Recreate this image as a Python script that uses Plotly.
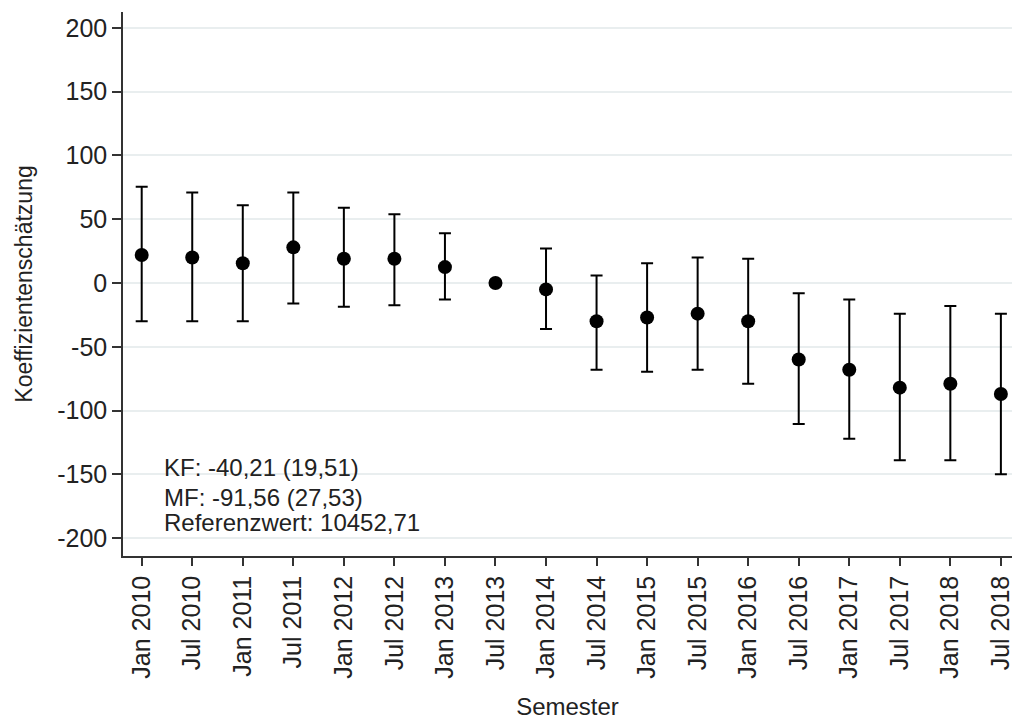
import plotly.graph_objects as go

labels = ["Jan 2010", "Jul 2010", "Jan 2011", "Jul 2011", "Jan 2012", "Jul 2012",
          "Jan 2013", "Jul 2013", "Jan 2014", "Jul 2014", "Jan 2015", "Jul 2015",
          "Jan 2016", "Jul 2016", "Jan 2017", "Jul 2017", "Jan 2018", "Jul 2018"]
coef = [22, 20, 15.5, 28, 19, 19, 12.5, 0, -5, -30, -27, -24, -30, -60, -68, -82, -79, -87]
upper = [75.5, 71, 61, 71, 59, 54, 39, 0, 27, 6, 15.5, 20, 19, -8, -13, -24, -18, -24]
lower = [-30, -30, -30, -16, -18.5, -17.5, -13, 0, -36, -68, -69.5, -68, -79, -110.5, -122, -139, -139, -150]

y_ticks = [-200, -150, -100, -50, 0, 50, 100, 150, 200]
note_lines = ["KF: -40,21 (19,51)", "MF: -91,56 (27,53)", "Referenzwert: 10452,71"]
note_y = [-145, -168, -188]

x = list(range(len(labels)))
err_plus = [u - c for u, c in zip(upper, coef)]
err_minus = [c - l for c, l in zip(coef, lower)]

FONT = "Liberation Sans, Arial, Helvetica, sans-serif"
TXT = "#222222"

fig = go.Figure()
fig.add_trace(go.Scatter(
    x=x, y=coef, mode="markers",
    marker=dict(color="black", size=14),
    error_y=dict(type="data", symmetric=False, array=err_plus, arrayminus=err_minus,
                 color="black", thickness=2, width=6),
    showlegend=False, cliponaxis=False,
))

fig.add_shape(type="line", xref="paper", x0=0, x1=1, yref="y", y0=0, y1=0,
              line=dict(color="#c0c0c0", width=1.5, dash="dash"), layer="below")

for line, yv in zip(note_lines, note_y):
    fig.add_annotation(
        xref="paper", yref="y", x=0.044, y=yv, xanchor="left", yanchor="middle",
        text=line, showarrow=False, align="left",
        font=dict(family=FONT, size=24, color=TXT),
    )

fig.update_layout(
    width=1014, height=720,
    margin=dict(l=123, r=0, t=12, b=164),
    plot_bgcolor="white", paper_bgcolor="white",
    font=dict(family=FONT, color=TXT),
    xaxis=dict(
        range=[-0.37, 17.22], tickmode="array", tickvals=x, ticktext=labels,
        tickangle=-90, tickfont=dict(size=25, family=FONT, color=TXT),
        ticklabeloverflow="allow",
        ticks="outside", ticklen=8, tickwidth=1.5, tickcolor="#333333",
        showline=True, linecolor="#333333", linewidth=1.5, showgrid=False,
        zeroline=False,
        title=dict(text="Semester", font=dict(size=24, family=FONT, color=TXT), standoff=22),
    ),
    yaxis=dict(
        range=[-214, 212.5], tickmode="array", tickvals=y_ticks,
        ticktext=[str(v) for v in y_ticks],
        tickfont=dict(size=25, family=FONT, color=TXT),
        ticks="outside", ticklen=9, tickwidth=1.5, tickcolor="#333333",
        showline=True, linecolor="#333333", linewidth=1.5,
        showgrid=True, gridcolor="#e9eeef", gridwidth=1.5, zeroline=False,
        title=dict(text="Koeffizientenschätzung", font=dict(size=23, family=FONT, color=TXT), standoff=18),
    ),
)

fig.write_html("out.html", config={"displayModeBar": False},
               post_script="document.body.style.margin='0';document.body.style.overflow='hidden';")
